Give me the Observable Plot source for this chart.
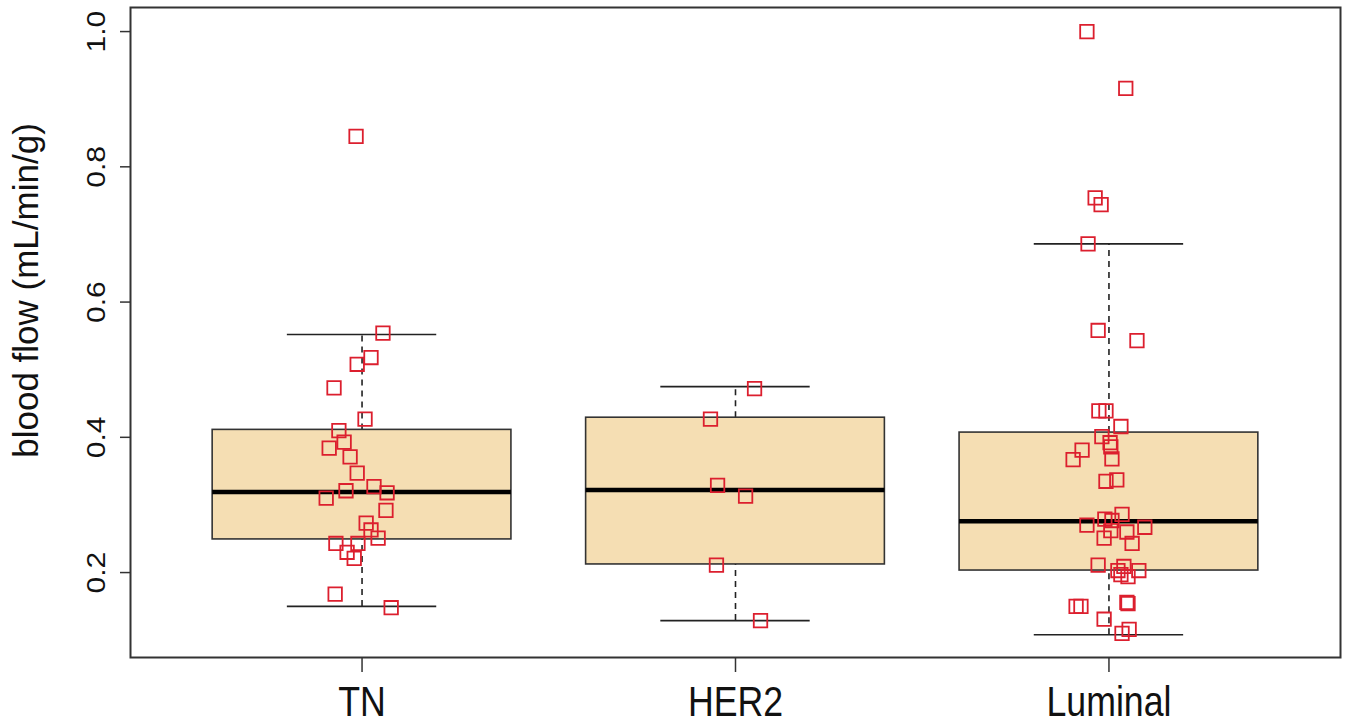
<!DOCTYPE html>
<html><head><meta charset="utf-8">
<script src="https://cdn.jsdelivr.net/npm/d3@7"></script>
<script src="https://cdn.jsdelivr.net/npm/@observablehq/plot@0.6"></script>
<style>body{margin:0;background:#fff}</style>
</head><body><div id="chart"></div>
<script>
const categories = ["TN", "HER2", "Luminal"];
const whiskerLow  = [0.150, 0.129, 0.108];
const q1          = [0.249, 0.212, 0.203];
const median      = [0.319, 0.322, 0.276];
const q3          = [0.411, 0.429, 0.407];
const whiskerHigh = [0.552, 0.475, 0.686];

const tnValues = [0.845,0.554,0.518,0.508,0.473,0.427,0.410,0.393,0.384,0.371,0.347,0.327,0.321,0.318,0.310,0.292,0.273,0.263,0.251,0.243,0.243,0.230,0.221,0.168,0.148];
const tnJitter = [-0.016,0.056,0.024,-0.013,-0.075,0.008,-0.062,-0.048,-0.088,-0.032,-0.013,0.032,-0.043,0.067,-0.096,0.064,0.011,0.024,0.043,-0.070,-0.011,-0.040,-0.021,-0.072,0.078];
const her2Values = [0.472,0.427,0.329,0.313,0.211,0.129];
const her2Jitter = [0.051,-0.067,-0.048,0.027,-0.051,0.067];
const luminalValues = [1.000,0.916,0.754,0.744,0.686,0.558,0.543,0.439,0.439,0.416,0.401,0.392,0.386,0.381,0.367,0.368,0.337,0.335,0.286,0.279,0.277,0.270,0.267,0.262,0.260,0.251,0.243,0.211,0.209,0.203,0.203,0.197,0.194,0.156,0.154,0.150,0.150,0.131,0.116,0.110];
const luminalJitter = [-0.059,0.045,-0.037,-0.021,-0.056,-0.029,0.075,-0.027,-0.008,0.032,-0.019,0.003,0.005,-0.072,-0.096,0.008,0.021,-0.008,0.035,-0.011,0.008,-0.059,0.096,0.005,0.048,-0.013,0.062,-0.029,0.040,0.024,0.080,0.032,0.051,0.048,0.051,-0.088,-0.075,-0.013,0.054,0.035];

const yTicks = [0.2, 0.4, 0.6, 0.8, 1.0];
const yLabel = "blood flow (mL/min/g)";

// derived tables
const boxes = categories.map((c, i) => ({pos: i + 1, lo: whiskerLow[i], q1: q1[i], med: median[i], q3: q3[i], hi: whiskerHigh[i]}));
const groups = [[tnValues, tnJitter], [her2Values, her2Jitter], [luminalValues, luminalJitter]];
const points = groups.flatMap(([vals, jit], i) => vals.map((v, j) => ({x: i + 1 + jit[j], y: v})));

const halfBox = 0.4, halfCap = 0.2;
const font = "'Liberation Sans', Arial, Helvetica, sans-serif";

const svg = Plot.plot({
  width: 1347,
  height: 727,
  marginLeft: 130,
  marginRight: 7,
  marginTop: 7,
  marginBottom: 70,
  style: {fontFamily: font, background: "#fff", color: "#222"},
  x: {type: "linear", domain: [0.38, 3.62], axis: null},
  y: {domain: [0.0744, 1.0356], axis: null},
  marks: [
    // whiskers (dashed)
    Plot.ruleX(boxes, {x: "pos", y1: "q3", y2: "hi", stroke: "#222", strokeWidth: 1.6, strokeDasharray: "6,5"}),
    Plot.ruleX(boxes, {x: "pos", y1: "lo", y2: "q1", stroke: "#222", strokeWidth: 1.6, strokeDasharray: "6,5"}),
    // staples
    Plot.ruleY(boxes, {y: "hi", x1: d => d.pos - halfCap, x2: d => d.pos + halfCap, stroke: "#222", strokeWidth: 1.6}),
    Plot.ruleY(boxes, {y: "lo", x1: d => d.pos - halfCap, x2: d => d.pos + halfCap, stroke: "#222", strokeWidth: 1.6}),
    // boxes
    Plot.rect(boxes, {x1: d => d.pos - halfBox, x2: d => d.pos + halfBox, y1: "q1", y2: "q3", fill: "#F5DEB3", stroke: "#333", strokeWidth: 1.6}),
    // medians
    Plot.ruleY(boxes, {y: "med", x1: d => d.pos - halfBox, x2: d => d.pos + halfBox, stroke: "#000", strokeWidth: 4.5}),
    // points
    Plot.dot(points, {x: "x", y: "y", symbol: "square", r: 7.6, stroke: "#dc1f2e", strokeWidth: 1.8, fill: "none"}),
    Plot.frame({stroke: "#333", strokeWidth: 2}),
    Plot.axisX({ticks: [1, 2, 3], tickFormat: i => categories[i - 1], tickSize: 15, tickPadding: 14, fontSize: 42, label: null, strokeWidth: 1.5, stroke: "#333", fill: "#111"}),
    Plot.axisY({ticks: yTicks, tickFormat: d3.format(".1f"), tickSize: 10, tickPadding: 14, tickRotate: -90, fontSize: 30, label: null, strokeWidth: 1.5, stroke: "#333", fill: "#111"}),
    Plot.text([yLabel], {text: d => d, frameAnchor: "left", textAnchor: "middle", rotate: -90, dx: -93, dy: -42, lineAnchor: "bottom", fontSize: 35, fill: "#111", ariaLabel: "ytitle"})
  ]
});
document.getElementById("chart").appendChild(svg);

// horizontally condense text, like the stretched reference
function squeeze(selector, sx) {
  svg.querySelectorAll(selector).forEach(t => {
    const r = t.getBoundingClientRect();
    const parent = t.parentNode;
    const m = parent.getScreenCTM().inverse();
    const p = svg.createSVGPoint();
    p.x = r.x + r.width / 2; p.y = r.y + r.height / 2;
    const q = p.matrixTransform(m);
    const g = document.createElementNS("http://www.w3.org/2000/svg", "g");
    g.setAttribute("transform", `translate(${q.x},${q.y}) scale(${sx},1) translate(${-q.x},${-q.y})`);
    parent.insertBefore(g, t);
    g.appendChild(t);
  });
}
squeeze('g[aria-label="x-axis tick label"] text', 0.85);
squeeze('g[aria-label="y-axis tick label"] text', 0.85);
squeeze('g[aria-label="ytitle"] text', 0.8);
</script>
</body></html>
